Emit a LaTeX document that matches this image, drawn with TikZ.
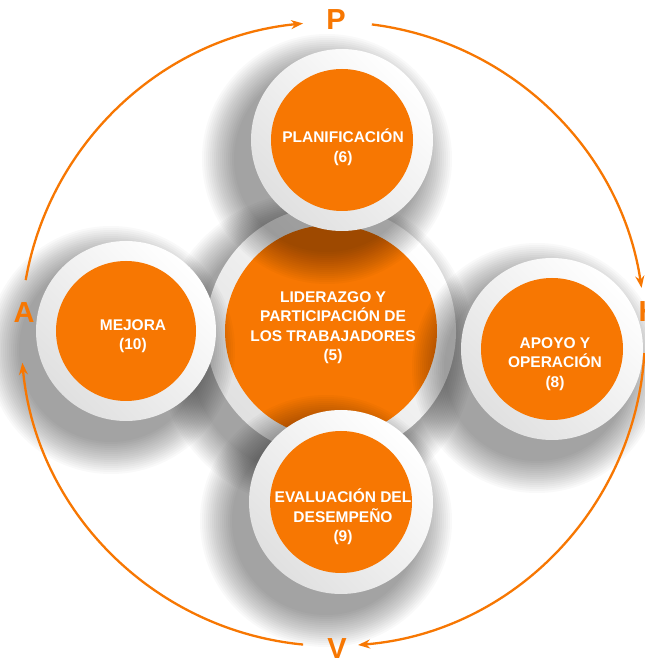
\documentclass[tikz,border=0pt]{standalone}
\usepackage{fontspec}
\setmainfont{Liberation Sans}
\usetikzlibrary{arrows.meta}
\definecolor{pdca}{RGB}{247,119,2}
\newcommand\castshadow[3]{%
  \foreach \k in {0,...,16}{%
    \pgfmathsetmacro\rr{#3+34-2*\k}%
    \fill[black,opacity=0.024] (#1-15,#2-19) circle[radius=\rr pt];
  }}
\begin{document}
\begin{tikzpicture}[x=1pt,y=1pt,
  ring/.style={circle, inner sep=0pt, draw=none, top color=white, bottom color=black!12, shading angle=-45},
  disc/.style={circle, inner sep=0pt, fill=pdca, draw=none},
  lbl/.style={text=white, font=\fontsize{15.5}{19.5}\selectfont\bfseries, align=center, inner sep=0pt},
  letter/.style={text=pdca, font=\fontsize{29}{29}\selectfont\bfseries, inner sep=0pt},
  cyc/.style={draw=pdca, line width=2.3pt, -{Stealth[length=12pt,width=9pt]}}]
\useasboundingbox (0,0) rectangle (645,662);
\clip (0,0) rectangle (645,662);
\fill[white] (0,0) rectangle (645,662);

% centre
\castshadow{331}{331}{125}
\node[ring, minimum size=250pt] (cring) at (331,331) {};
\node[disc, minimum size=212pt] (cdisc) at (331,331) {};
\node[lbl] (ctxt) at (333,334.5) {LIDERAZGO Y\\PARTICIPACIÓN DE\\LOS TRABAJADORES\\(5)};

% top
\castshadow{342}{522}{91}
\node[ring, minimum size=182pt] (tring) at (342,522) {};
\node[disc, minimum size=142pt] (tdisc) at (342,522) {};
\node[lbl] (ttxt) at (343,515) {PLANIFICACIÓN\\(6)};

% left
\castshadow{126}{331}{90}
\node[ring, minimum size=180pt] (lring) at (126,331) {};
\node[disc, minimum size=140pt] (ldisc) at (126,331) {};
\node[lbl] (ltxt) at (133,326) {MEJORA\\(10)};

% right
\castshadow{552}{313}{91}
\node[ring, minimum size=182pt] (rring) at (552,313) {};
\node[disc, minimum size=142pt] (rdisc) at (552,313) {};
\node[lbl] (rtxt) at (555,298) {APOYO Y\\OPERACIÓN\\(8)};

% bottom
\castshadow{341}{160}{92}
\node[ring, minimum size=184pt] (bring) at (341,160) {};
\node[disc, minimum size=142pt] (bdisc) at (341,160) {};
\node[lbl] (btxt) at (343,145) {EVALUACIÓN DEL\\DESEMPEÑO\\(9)};

% cycle letters
\node[letter] (P) at (336,642) {P};
\node[letter] (H) at (649,350) {H};
\node[letter] (V) at (337,13) {V};
\node[letter] (A) at (24,349) {A};

% cycle arrows
\coordinate (O) at (333,328);
\coordinate (ph) at ([shift={(82.85:312pt)}]O);
\coordinate (hv) at ([shift={(-3.5:312pt)}]O);
\coordinate (va) at ([shift={(264.5:312pt)}]O);
\coordinate (ap) at ([shift={(170.05:312pt)}]O);
\draw[cyc] (ph) arc[start angle=82.85, end angle=8.5, radius=312pt];
\draw[cyc] (hv) arc[start angle=-3.5, end angle=-85.4, radius=312pt];
\draw[cyc] (va) arc[start angle=264.5, end angle=185.3, radius=312pt];
\draw[cyc] (ap) arc[start angle=170.05, end angle=95.5, radius=312pt];
\end{tikzpicture}
\end{document}
